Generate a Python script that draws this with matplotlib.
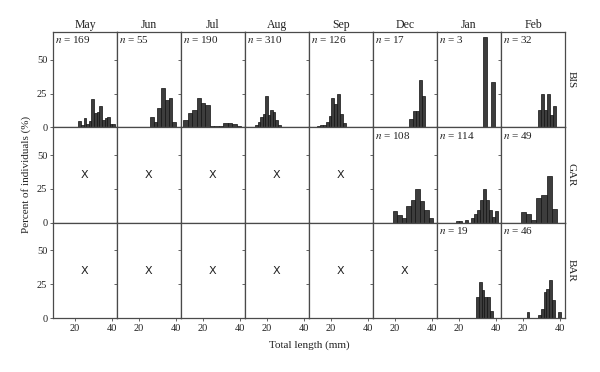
import matplotlib
matplotlib.use('Agg')
import matplotlib.pyplot as plt

months = ['May', 'Jun', 'Jul', 'Aug', 'Sep', 'Dec', 'Jan', 'Feb']
sites = ['BIS', 'GAR', 'BAR']

# sample sizes (None = not sampled)
bis_n = [169, 55, 190, 310, 126, 17, 3, 32]
gar_n = [None, None, None, None, None, 108, 114, 49]
bar_n = [None, None, None, None, None, None, 19, 46]

# histogram bins: first bin edge (mm), bin width (mm), percent per bin
bis_start = [22.0, 25.9, 9.7, 9.85, 12.9, 27.8, 32.9, 28.2]
bis_width = [1.39, 2.0, 2.36, 1.35, 1.5, 1.7, 2.05, 1.62]
bis_pct = [
    [4.4, 1.5, 6.9, 2.5, 5.0, 20.8, 10.8, 11.5, 16.0, 5.5, 7.0, 8.0, 2.5, 2.5],
    [7.3, 3.6, 14.5, 29.1, 20.0, 21.8, 3.6],
    [5.4, 10.8, 12.7, 21.8, 18.1, 16.2, 1.2, 0.7, 0.7, 3.2, 3.4, 2.2, 1.1],
    [0.3, 0.3, 0.6, 1.5, 4.0, 7.5, 9.5, 23.5, 8.8, 12.5, 11.5, 5.5, 1.5],
    [1.0, 2.0, 1.5, 4.0, 8.5, 22.0, 17.5, 24.5, 9.5, 3.0],
    [5.9, 11.8, 11.8, 35.3, 23.5],
    [66.7, 0, 33.3],
    [12.5, 25.0, 12.5, 25.0, 9.4, 15.6],
]

gar_start = [None, None, None, None, None, 19.1, 18.6, 18.95]
gar_width = [None, None, None, None, None, 2.36, 1.594, 2.75]
gar_pct = [None, None, None, None, None,
           [8.3, 5.6, 3.7, 12.0, 16.7, 25.0, 15.7, 9.3, 3.7],
           [0.9, 0.9, 0, 1.8, 0, 3.5, 6.1, 9.6, 16.7, 24.6, 16.7, 9.6, 4.4, 8.8],
           [8.2, 6.1, 2.0, 18.4, 20.4, 34.7, 10.2]]

bar_start = [None, None, None, None, None, None, 29.2, 22.1]
bar_width = [None, None, None, None, None, None, 1.5, 1.5]
bar_pct = [None, None, None, None, None, None,
           [15.8, 26.3, 21.1, 15.8, 15.8, 5.3],
           [4.35, 0, 0, 0, 2.2, 6.5, 19.6, 21.7, 28.3, 13.0, 0, 4.35]]

rows = [
    (bis_n, bis_start, bis_width, bis_pct),
    (gar_n, gar_start, gar_width, gar_pct),
    (bar_n, bar_start, bar_width, bar_pct),
]

serif = ['Liberation Serif', 'DejaVu Serif']
plt.rcParams['font.family'] = serif
plt.rcParams['mathtext.fontset'] = 'stix'

fig, axes = plt.subplots(3, 8, figsize=(6, 3.72), dpi=100, sharex=True, sharey=True)
fig.subplots_adjust(left=0.0883, right=0.9417, top=0.914, bottom=0.145,
                    wspace=0, hspace=0)

edge = '#4a4a4a'
for r, (ns, starts, widths, pcts) in enumerate(rows):
    for c in range(8):
        ax = axes[r, c]
        ax.set_xlim(8.5, 42.5)
        ax.set_ylim(0, 70.5)
        for sp in ax.spines.values():
            sp.set_color(edge)
            sp.set_linewidth(0.9)
        ax.set_yticks([0, 25, 50])
        ax.set_xticks([20, 40])
        ax.tick_params(direction='out', length=2, width=0.6, color=edge,
                       labelsize=7.5, pad=2, labelcolor='#222222')
        if ns[c] is None:
            ax.text(25, 35, 'X', ha='center', va='center', fontsize=8,
                    family='DejaVu Sans', color='#222222')
        else:
            h = pcts[c]
            w = widths[c]
            lefts = [starts[c] + i * w for i in range(len(h))]
            ax.bar(lefts, h, width=w, align='edge', color='#3d3d3d',
                   edgecolor='#111111', linewidth=0.5)
            ax.text(0.03, 0.975, r'$n$ = %d' % ns[c], transform=ax.transAxes,
                    ha='left', va='top', fontsize=8, color='#222222')
        if r == 0:
            ax.set_title(months[c], fontsize=8.5, pad=3, color='#222222')
    axes[r, 7].text(1.1, 0.5, sites[r], transform=axes[r, 7].transAxes,
                    rotation=270, ha='center', va='center', fontsize=8,
                    color='#222222')

fig.text(0.044, 0.53, 'Percent of individuals (%)', rotation=90,
         ha='center', va='center', fontsize=8, color='#222222')
fig.text(0.515, 0.072, 'Total length (mm)', ha='center', va='center',
         fontsize=8, color='#222222')

fig.savefig('out.png', dpi=100)
